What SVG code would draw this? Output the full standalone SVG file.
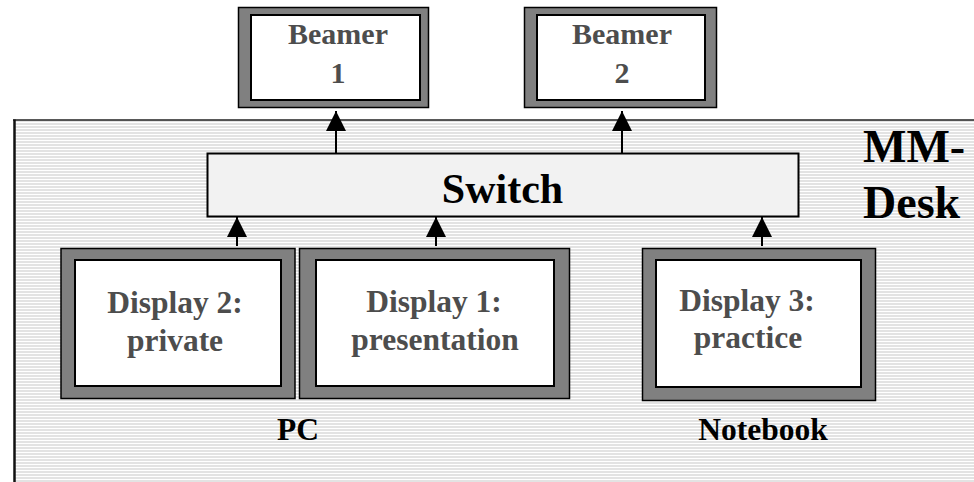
<svg xmlns="http://www.w3.org/2000/svg" width="974" height="482" viewBox="0 0 974 482">
  <defs>
    <pattern id="stripes" x="0" y="0" width="8" height="3" patternUnits="userSpaceOnUse">
      <rect x="0" y="0" width="8" height="3" fill="#e3e3e3"/>
      <rect x="0" y="2" width="8" height="1" fill="#ffffff"/>
    </pattern>
    <marker id="head" markerUnits="userSpaceOnUse" markerWidth="20" markerHeight="20" refX="20" refY="10" orient="auto" viewBox="0 0 20 20">
      <path d="M0,0 L20,10 L0,20 Z" fill="#000"/>
    </marker>
  </defs>
  <style>
    .frame { fill: #808080; stroke: #000; stroke-width: 1.5; }
    .screen { fill: #ffffff; stroke: #000; stroke-width: 2; }
    .label { font-family: "Liberation Serif", "Times New Roman", serif; font-weight: bold; fill: #4d4d4d; text-anchor: middle; font-size: 30px; }
    .display { font-size: 31.5px; }
    .caption { font-family: "Liberation Serif", "Times New Roman", serif; font-weight: bold; fill: #000; text-anchor: middle; font-size: 31.5px; }
    .title { font-family: "Liberation Serif", "Times New Roman", serif; font-weight: bold; fill: #000; }
    .link { stroke: #000; stroke-width: 2; fill: none; marker-end: url(#head); }
  </style>

  <rect width="974" height="482" fill="#ffffff"/>

  <!-- MM-Desk area -->
  <g id="mm-desk">
    <rect x="14" y="120" width="970" height="370" fill="url(#stripes)"/>
    <line x1="13" y1="120" x2="974" y2="120" stroke="#222" stroke-width="1.5"/>
    <line x1="14.5" y1="119.5" x2="14.5" y2="482" stroke="#111" stroke-width="2.5"/>
    <text class="title" x="863" y="162" font-size="46">MM-</text>
    <text class="title" x="863" y="218" font-size="46">Desk</text>
  </g>

  <!-- Beamers -->
  <g id="beamer-1">
    <rect class="frame" x="238.5" y="7.5" width="190" height="100"/>
    <rect class="screen" x="251" y="15" width="169" height="85"/>
    <text class="label" x="338" y="44">Beamer</text>
    <text class="label" x="338" y="83">1</text>
  </g>
  <g id="beamer-2">
    <rect class="frame" x="524.5" y="7.5" width="192" height="100"/>
    <rect class="screen" x="537" y="15" width="168" height="85"/>
    <text class="label" x="622" y="44">Beamer</text>
    <text class="label" x="622" y="83">2</text>
  </g>

  <!-- Switch -->
  <g id="switch">
    <rect x="207.5" y="153.5" width="591" height="63" fill="#f2f2f2" stroke="#000" stroke-width="2"/>
    <text class="title" x="502.5" y="203" font-size="42" text-anchor="middle">Switch</text>
  </g>

  <!-- Displays -->
  <g id="display-2">
    <rect class="frame" x="61" y="248.5" width="234" height="150"/>
    <rect class="screen" x="75" y="260" width="206" height="126"/>
    <text class="label display" x="175" y="313">Display 2:</text>
    <text class="label display" x="175" y="351">private</text>
  </g>
  <g id="display-1">
    <rect class="frame" x="299.5" y="248.5" width="270" height="150"/>
    <rect class="screen" x="316" y="260" width="238" height="126"/>
    <text class="label display" x="434" y="312">Display 1:</text>
    <text class="label display" x="435" y="350">presentation</text>
  </g>
  <g id="display-3">
    <rect class="frame" x="642.5" y="248.5" width="233" height="152"/>
    <rect class="screen" x="656" y="260" width="205" height="127"/>
    <text class="label display" x="747" y="311">Display 3:</text>
    <text class="label display" x="748" y="348">practice</text>
  </g>

  <!-- Device captions -->
  <g id="pc">
    <text class="caption" x="298" y="440">PC</text>
  </g>
  <g id="notebook">
    <text class="caption" x="763" y="440">Notebook</text>
  </g>

  <!-- Signal connectors -->
  <g id="connectors">
    <line class="link" x1="336" y1="153" x2="336" y2="111"/>
    <line class="link" x1="622" y1="153" x2="622" y2="111"/>
    <line class="link" x1="237" y1="246" x2="237" y2="217"/>
    <line class="link" x1="436" y1="246" x2="436" y2="217"/>
    <line class="link" x1="762" y1="246" x2="762" y2="217"/>
  </g>
</svg>
